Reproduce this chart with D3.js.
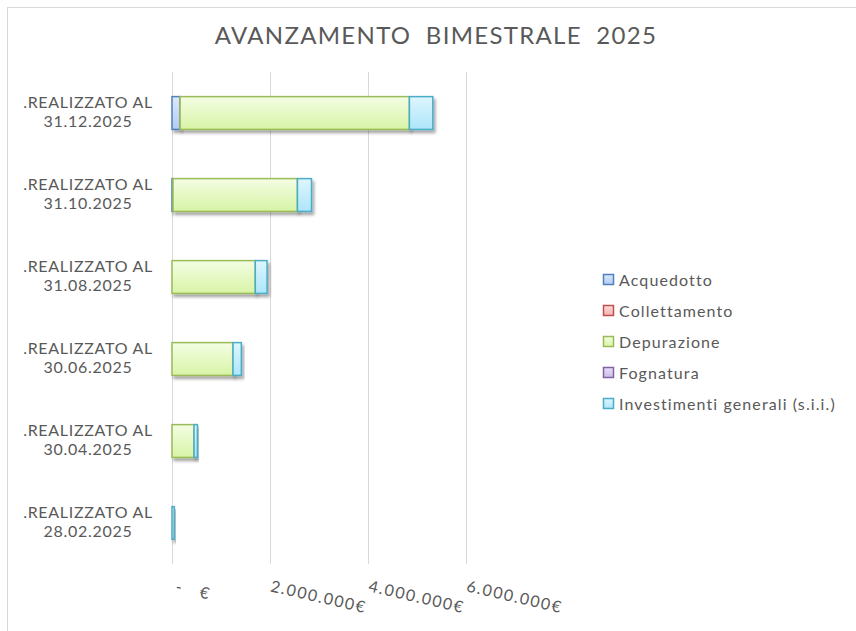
<!DOCTYPE html>
<html>
<head>
<meta charset="utf-8">
<script src="https://cdn.jsdelivr.net/npm/d3@7"></script>
<style>
  body { margin: 0; background: #fff; }
  text { font-family: Lato, "Open Sans", sans-serif; fill: #595959; }
</style>
</head>
<body>
<div class="chart"></div>
<script>
// dates of the cumulative reports, oldest first (bottom of the chart)
const dates = ['28.02.2025', '30.04.2025', '30.06.2025', '31.08.2025', '31.10.2025', '31.12.2025']
const seriesNames = ['Acquedotto', 'Collettamento', 'Depurazione', 'Fognatura', 'Investimenti generali (s.i.i.)']
const acquedotto = [0, 0, 0, 0, 20000, 165000]
const collettamento = [0, 0, 0, 0, 0, 0]
const depurazione = [0, 450000, 1245000, 1700000, 2540000, 4680000]
const fognatura = [0, 0, 0, 0, 0, 0]
const investimenti = [45000, 68000, 170000, 240000, 287000, 478000]
const xTicks = [0, 2000000, 4000000, 6000000]

const colors = {
    'Acquedotto': {stroke: '#4f81bd', top: '#dde8fb', bottom: '#b4cbf2'},
    'Collettamento': {stroke: '#c0504d', top: '#fbdcdb', bottom: '#f2b3b1'},
    'Depurazione': {stroke: '#9bbb59', top: '#f3fde3', bottom: '#d8f4a6'},
    'Fognatura': {stroke: '#8064a2', top: '#e8defa', bottom: '#cdbde8'},
    'Investimenti generali (s.i.i.)': {stroke: '#4bacc6', top: '#def6fe', bottom: '#ade6fa'}
}

const rows = dates.map((d, i) => ({
    date: d,
    'Acquedotto': acquedotto[i],
    'Collettamento': collettamento[i],
    'Depurazione': depurazione[i],
    'Fognatura': fognatura[i],
    'Investimenti generali (s.i.i.)': investimenti[i]
}))

const fullWidth = 856, fullHeight = 631
const svg = d3.select('.chart').append('svg')
    .attr('width', fullWidth)
    .attr('height', fullHeight)

const defs = svg.append('defs')
seriesNames.forEach((s, i) => {
    const g = defs.append('linearGradient').attr('id', 'grad' + i)
        .attr('x1', 0).attr('y1', 0).attr('x2', 0).attr('y2', 1)
    g.append('stop').attr('offset', '0%').attr('stop-color', colors[s].top)
    g.append('stop').attr('offset', '100%').attr('stop-color', colors[s].bottom)
})
defs.append('filter').attr('id', 'shadow')
    .attr('x', '-20%').attr('y', '-20%').attr('width', '160%').attr('height', '160%')
  .append('feDropShadow')
    .attr('dx', 2).attr('dy', 3).attr('stdDeviation', 1.8)
    .attr('flood-color', '#000').attr('flood-opacity', 0.35)

// chart frame (only top and left visible in the picture)
svg.append('rect')
    .attr('x', 7.5).attr('y', 7.5)
    .attr('width', 1000).attr('height', 1000)
    .style('fill', 'none').style('stroke', '#d9d9d9')

svg.append('text')
    .attr('x', 436).attr('y', 44)
    .attr('text-anchor', 'middle')
    .style('font-size', '24px')
    .style('word-spacing', '7px')
    .style('letter-spacing', '1.3px')
    .text('AVANZAMENTO BIMESTRALE 2025')

const xScale = d3.scaleLinear().domain([0, 6000000]).range([172, 466])
const yScale = d3.scaleBand().domain(dates.slice().reverse()).range([72, 564]).paddingInner(0.6).paddingOuter(0.3)

// gridlines
svg.append('g')
    .selectAll('line')
    .data(xTicks)
    .join('line')
    .attr('x1', d => Math.round(xScale(d)) + 0.5)
    .attr('x2', d => Math.round(xScale(d)) + 0.5)
    .attr('y1', 72).attr('y2', 564)
    .style('stroke', '#d9d9d9')

// x axis labels, tilted like in the spreadsheet
const fmt = v => v === 0 ? '-\u00a0\u00a0\u00a0€' : d3.format(',')(v).replace(/,/g, '.') + '€'
const xAxis = d3.axisBottom(xScale).tickValues(xTicks).tickSize(0).tickFormat(fmt)
const xg = svg.append('g').attr('transform', 'translate(0, 579)').call(xAxis)
xg.select('.domain').remove()
xg.selectAll('text')
    .attr('y', 0).attr('dy', '0.75em')
    .attr('x', d => d === 0 ? 5 : 2)
    .attr('text-anchor', 'start')
    .attr('transform', 'rotate(13)')
    .style('font-size', '16px')
    .style('letter-spacing', '1.6px')
    .style('font-family', 'Lato, sans-serif')
    .style('fill', '#595959')

// category labels on two lines
const yg = svg.append('g')
dates.forEach(d => {
    const cy = yScale(d) + yScale.bandwidth() / 2
    const t = yg.append('text')
        .attr('text-anchor', 'middle')
        .style('font-size', '16px')
        .style('letter-spacing', '0.7px')
    t.append('tspan').attr('x', 88).attr('y', cy - 5).text('.REALIZZATO AL')
    t.append('tspan').attr('x', 88).attr('y', cy + 14).text(d)
})

// stacked bars
const stack = d3.stack().keys(seriesNames)(rows)
svg.append('g')
    .selectAll('g')
    .data(stack)
    .join('g')
    .each(function (layer, i) {
        d3.select(this).selectAll('rect')
            .data(layer.filter(p => p[1] - p[0] > 0))
            .join('rect')
            .attr('x', p => xScale(p[0]))
            .attr('y', p => yScale(p.data.date))
            .attr('width', p => xScale(p[1]) - xScale(p[0]))
            .attr('height', yScale.bandwidth())
            .attr('fill', 'url(#grad' + i + ')')
            .attr('stroke', colors[layer.key].stroke)
            .attr('stroke-width', 1.5)
            .attr('filter', 'url(#shadow)')
    })

// legend
const legend = svg.append('g')
seriesNames.forEach((s, i) => {
    const cy = 280 + i * 31
    legend.append('rect')
        .attr('x', 603.5).attr('y', cy - 5.5)
        .attr('width', 10).attr('height', 10)
        .attr('fill', 'url(#grad' + i + ')')
        .attr('stroke', colors[s].stroke)
        .attr('stroke-width', 1.5)
    legend.append('text')
        .attr('x', 619).attr('y', cy)
        .attr('dy', '0.35em')
        .style('font-size', '16px')
        .style('letter-spacing', '1.1px')
        .text(s)
})
</script>
</body>
</html>
